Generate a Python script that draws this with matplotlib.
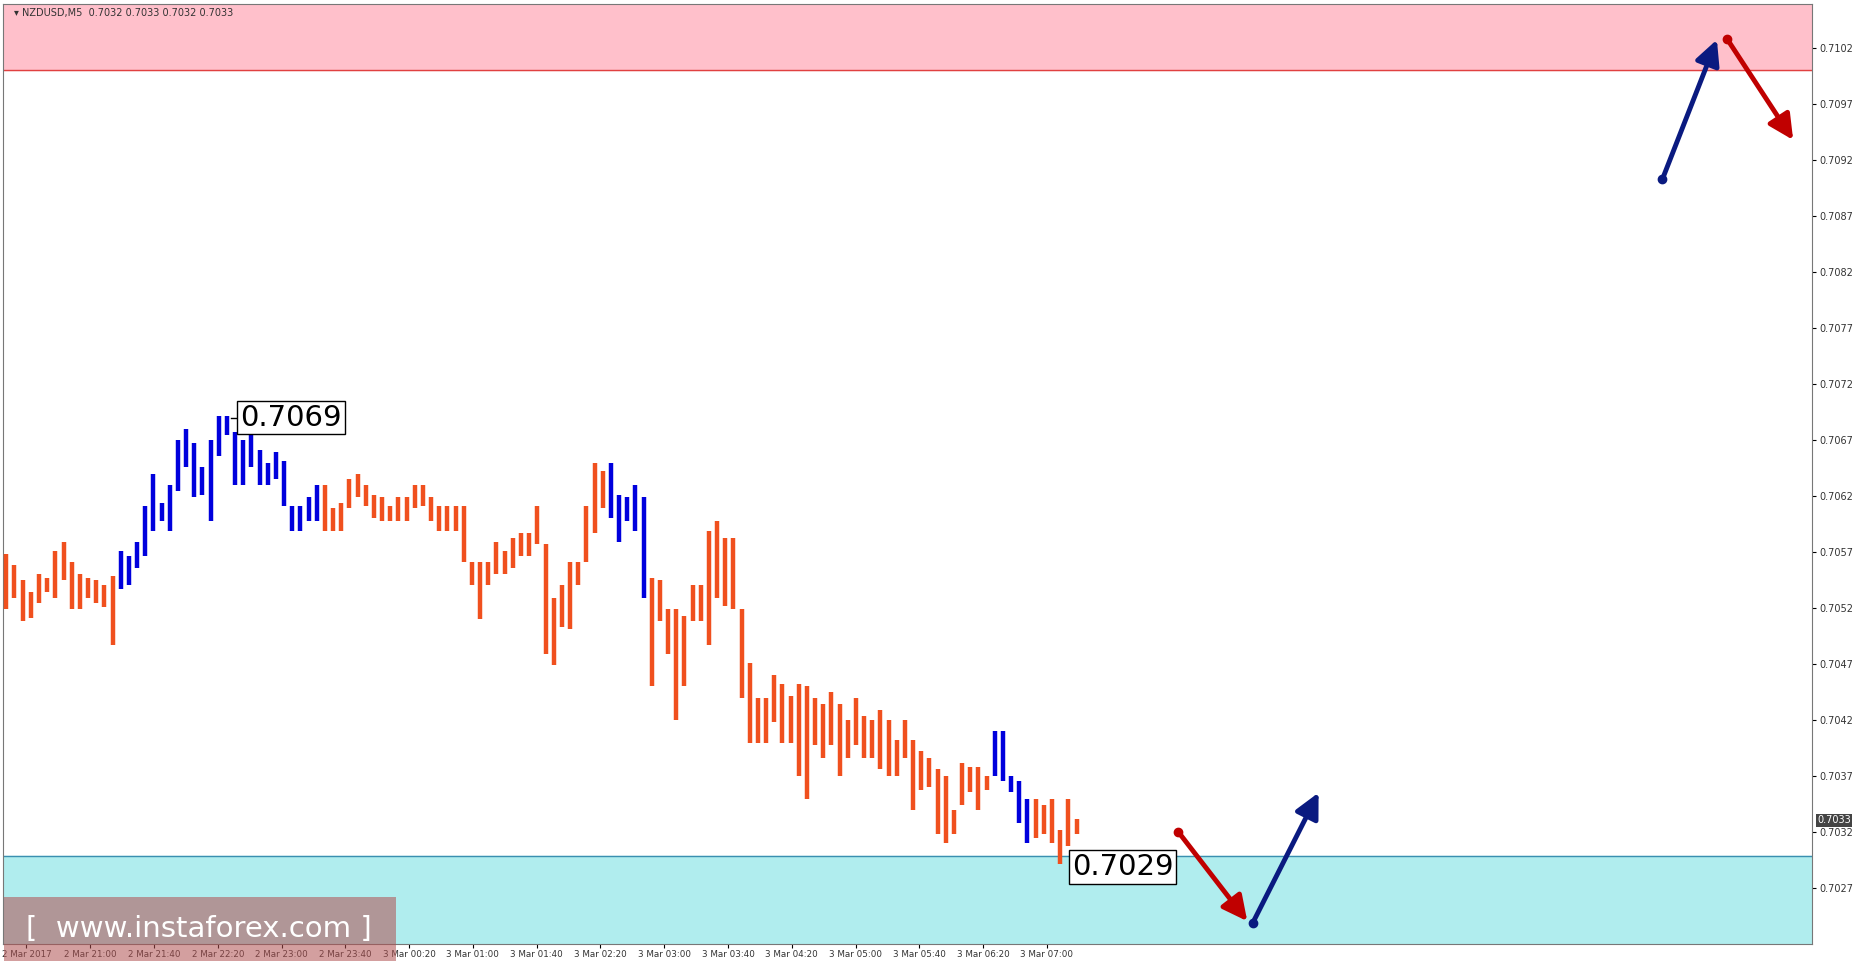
import matplotlib
matplotlib.use("Agg")
import matplotlib.pyplot as plt
from matplotlib.patches import Rectangle, FancyArrowPatch

def py(y):  # pixel-read level to price
    return round(0.7102 - (y - 41) * 0.0075 / 709, 5)

# bar ranges (screen-y readings, converted to prices)
bar_hi_y = [468,478,490,500,485,488,465,458,475,485,488,490,495,487,
            465,470,458,428,400,425,410,372,362,375,395,372,352,352,365,372,368,380,392,382,390,428,428,420,410,
            410,430,425,405,400,410,418,420,428,420,420,410,410,420,428,428,428,428,475,475,475,458,465,455,450,450,428,
            460,505,495,475,475,428,392,398,392,418,420,410,420,488,490,515,515,520,495,495,448,440,455,455,515,560,590,
            590,570,578,588,578,580,590,595,585,595,608,590,605,608,600,608,625,608,625,635,640,650,655,685,645,648,648,
            655,618,618,655,660,675,675,680,675,702,675,692]
bar_lo_y = [515,505,525,522,510,500,505,490,515,515,505,510,513,545,
            498,495,480,470,448,440,448,415,395,420,418,440,385,368,410,410,395,410,410,405,428,448,448,440,440,
            448,448,448,430,420,428,438,440,440,440,440,430,428,440,448,448,448,475,495,523,495,485,485,480,470,470,460,
            552,562,530,532,495,475,450,430,438,458,440,448,505,580,525,552,608,580,525,525,545,505,512,515,590,628,628,
            628,610,628,628,655,675,630,640,630,655,640,630,640,640,650,655,655,640,685,668,665,705,712,705,680,670,685,
            668,655,660,670,695,712,708,705,712,730,715,705]
bar_dir = ("d"*14 + "u"*25 + "d"*27 + "d"*8 + "u"*5 + "d"*14 + "d"*27 + "d" + "u"*5 + "d"*6)
highs = [py(v) for v in bar_hi_y]
lows = [py(v) for v in bar_lo_y]

time_labels = ["2 Mar 2017", "2 Mar 21:00", "2 Mar 21:40", "2 Mar 22:20", "2 Mar 23:00", "2 Mar 23:40",
               "3 Mar 00:20", "3 Mar 01:00", "3 Mar 01:40", "3 Mar 02:20", "3 Mar 03:00", "3 Mar 03:40",
               "3 Mar 04:20", "3 Mar 05:00", "3 Mar 05:40", "3 Mar 06:20", "3 Mar 07:00"]
price_ticks = [0.7027, 0.7032, 0.7037, 0.7042, 0.7047, 0.7052, 0.7057, 0.7062, 0.7067,
               0.7072, 0.7077, 0.7082, 0.7087, 0.7092, 0.7097, 0.7102]

W, H = 1568, 816
n = len(highs)
s = (909 - 3) / (n - 1)
def px(x):
    return (x - 3) / s

fig = plt.figure(figsize=(18.55, 9.66), dpi=100)
ax = fig.add_axes([0.0015, 1 - 797 / H, 1532 / W - 0.0015, 794 / H])
ymin, ymax = py(797), py(3)
ax.set_ylim(ymin, ymax)
ax.set_xlim(px(0), px(1532))

ax.axhspan(py(59), ymax, color="#FFC0CB", zorder=0)
ax.axhline(py(59), color="#E04040", lw=1)
ax.axhspan(ymin, py(724), color="#B0EDEE", zorder=0)
ax.axhline(py(724), color="#3A8FB0", lw=1)

for i in range(n):
    c = "#0000DD" if bar_dir[i] == "u" else "#F0501E"
    ax.vlines(i, lows[i], highs[i], color=c, lw=3.2, zorder=3)

ax.text(px(201), py(353), "0.7069", fontsize=21, va="center", ha="left",
        bbox=dict(boxstyle="square,pad=0.1", fc="white", ec="black", lw=1), zorder=5)
ax.plot([px(193), px(201)], [py(353), py(353)], color="black", lw=1, zorder=4)
ax.text(px(905), py(733), "0.7029", fontsize=21, va="center", ha="left",
        bbox=dict(boxstyle="square,pad=0.1", fc="white", ec="black", lw=1), zorder=5)

def arrow(x0, y0, x1, y1, c):
    ax.add_patch(FancyArrowPatch((px(x0), py(y0)), (px(x1), py(y1)), arrowstyle="-|>,head_length=10,head_width=5",
                                 color=c, lw=3.5, mutation_scale=1.5, zorder=6))
    ax.plot([px(x0)], [py(y0)], "o", color=c, ms=6, zorder=7)

arrow(995, 703, 1055, 780, "#C00000")
arrow(1058, 780, 1115, 668, "#0A1A80")
arrow(1405, 152, 1452, 32, "#0A1A80")
arrow(1460, 33, 1517, 120, "#C00000")

ax.yaxis.tick_right()
ax.set_yticks(price_ticks)
ax.set_yticklabels([f"{v:.4f}" for v in price_ticks], fontsize=7, color="#333333")
tick_px = [20 + 54 * k for k in range(len(time_labels))]
ax.set_xticks([px(t) for t in tick_px])
ax.set_xticklabels(time_labels, fontsize=6.3, color="#333333")
ax.tick_params(length=3, pad=2)
for sp in ax.spines.values():
    sp.set_color("#777777")

ax.text(px(1536), py(693), "0.7033", fontsize=7, color="white", va="center", ha="left",
        bbox=dict(boxstyle="square,pad=0.15", fc="#444444", ec="none"), clip_on=False, zorder=8)
ax.text(0.006, 0.995, "\u25be NZDUSD,M5  0.7032 0.7033 0.7032 0.7033", transform=ax.transAxes,
        fontsize=7, va="top", color="#333333")

fig.patches.append(Rectangle((3 / W, 1 - 812 / H), 332 / W, 54 / H, transform=fig.transFigure,
                             fc="#B05050", alpha=0.55, ec="none", zorder=10))
fig.text(168 / W, 1 - 785 / H, "[  www.instaforex.com ]", color="white", fontsize=21,
         ha="center", va="center", zorder=11)

fig.savefig("out.png", dpi=100)
